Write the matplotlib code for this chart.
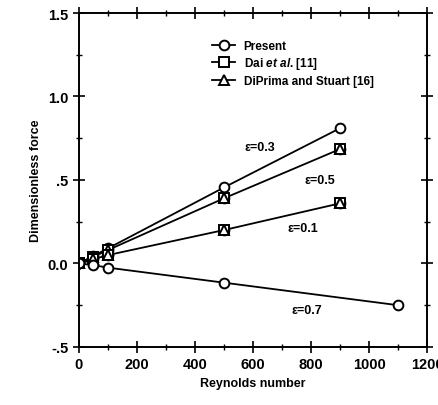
import matplotlib
matplotlib.use("Agg")
import matplotlib.pyplot as plt
from matplotlib.ticker import MultipleLocator, FuncFormatter

plt.rcParams['font.family'] = ['Liberation Sans', 'DejaVu Sans']
plt.rcParams['font.weight'] = 'bold'
plt.rcParams['mathtext.fontset'] = 'custom'
plt.rcParams['mathtext.it'] = 'Liberation Sans:italic:bold'
plt.rcParams['mathtext.rm'] = 'Liberation Sans:bold'

re_a = [0, 50, 100, 500, 900]
re_b = [0, 50, 100, 500, 1100]
f_e03 = [0, 0.045, 0.09, 0.455, 0.81]
f_e05 = [0, 0.04, 0.08, 0.39, 0.685]
f_e01 = [0, 0.025, 0.05, 0.20, 0.36]
f_e07 = [0, -0.01, -0.025, -0.115, -0.25]

labels = ["Present", "Dai $\\it{et\\ al}$. [11]", "DiPrima and Stuart [16]"]
eps_text = [("ε=0.3", 624, 0.70), ("ε=0.5", 831, 0.50), ("ε=0.1", 772, 0.215), ("ε=0.7", 785, -0.28)]

fig = plt.figure(figsize=(4.38, 4.06), dpi=100)
ax = fig.add_axes([0.18, 0.143, 0.795, 0.8225])

mk = dict(markerfacecolor='white', markeredgecolor='black', markersize=7, markeredgewidth=1.4)
lw = 1.3
# epsilon = 0.3 (present)
ax.plot(re_a, f_e03, '-', color='black', lw=lw, marker='o', **mk)
# epsilon = 0.5
ax.plot(re_a, f_e05, '-', color='black', lw=lw, marker='o', **mk)
ax.plot(re_a, f_e05, 'none', marker='s', **mk)
ax.plot(re_a, f_e05, 'none', marker='^', **mk)
# epsilon = 0.1
ax.plot(re_a, f_e01, '-', color='black', lw=lw, marker='o', **mk)
ax.plot(re_a, f_e01, 'none', marker='s', **mk)
ax.plot(re_a, f_e01, 'none', marker='^', **mk)
# epsilon = 0.7
ax.plot(re_b, f_e07, '-', color='black', lw=lw, marker='o', **mk)

# legend handles
h1, = ax.plot([], [], '-', color='black', lw=lw, marker='o', **mk)
h2, = ax.plot([], [], '-', color='black', lw=lw, marker='s', **mk)
h3, = ax.plot([], [], '-', color='black', lw=lw, marker='^', **mk)
ax.legend([h1, h2, h3], labels, loc='upper left', bbox_to_anchor=(0.382, 0.92),
          frameon=False, fontsize=8.5, handlelength=2.0, handletextpad=0.7,
          labelspacing=0.3, borderpad=0, borderaxespad=0)

for t, x, y in eps_text:
    ax.text(x, y, t, fontsize=9, ha='center', va='center', fontweight='bold')

ax.set_xlim(0, 1200)
ax.set_ylim(-0.5, 1.5)
ax.xaxis.set_major_locator(MultipleLocator(200))
ax.xaxis.set_minor_locator(MultipleLocator(100))
ax.yaxis.set_major_locator(MultipleLocator(0.5))
ax.yaxis.set_minor_locator(MultipleLocator(0.25))

def yfmt(v, pos):
    s = f"{v:.1f}"
    if s == "0.5":
        return ".5"
    if s == "-0.5":
        return "-.5"
    return s
ax.yaxis.set_major_formatter(FuncFormatter(yfmt))

ax.tick_params(which='both', direction='inout', top=True, right=True, labelsize=10.5)
ax.tick_params(which='major', length=8, width=1.2)
ax.tick_params(which='minor', length=4, width=1.0)
for sp in ax.spines.values():
    sp.set_linewidth(1.4)

ax.set_xlabel("Reynolds number", fontsize=9, fontweight='bold')
ax.set_ylabel("Dimensionless force", fontsize=9, fontweight='bold')

fig.savefig("out.png", dpi=100)
